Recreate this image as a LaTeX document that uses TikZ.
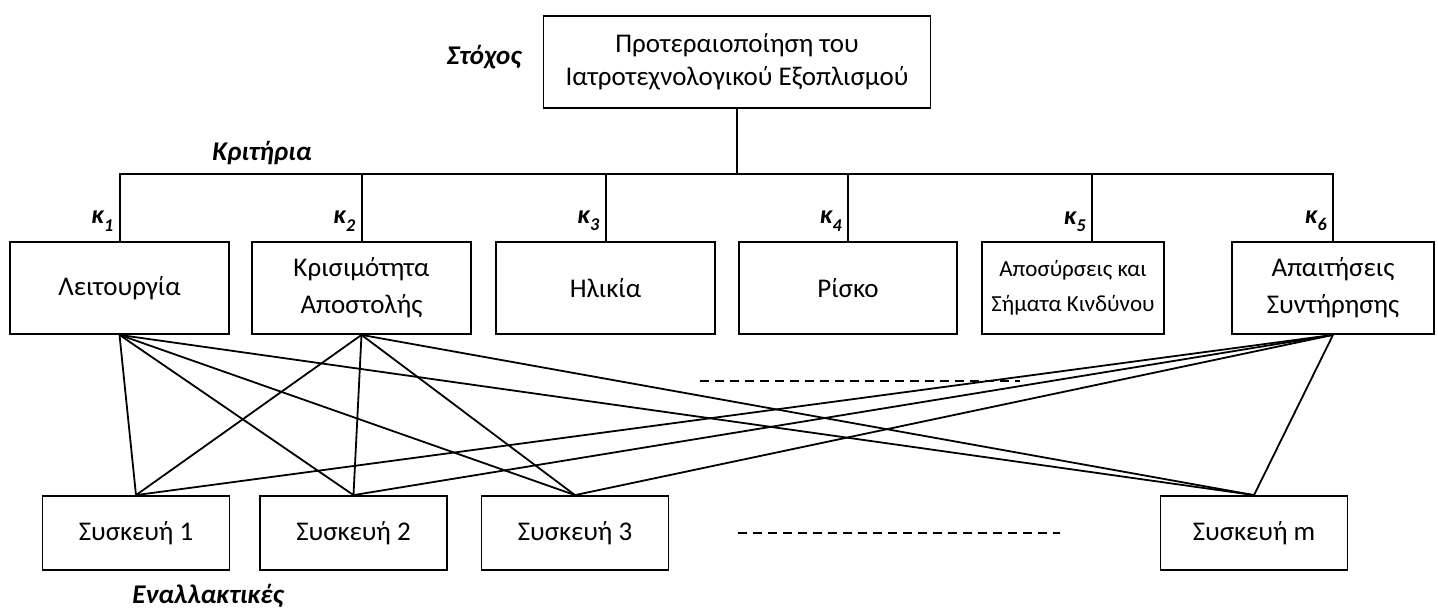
\documentclass[tikz,border=0pt]{standalone}
\usepackage{fontspec}
\setmainfont{Carlito}
\usetikzlibrary{calc}

\newcommand{\crit}[1]{\textbf{\textit{κ\raisebox{-0.28em}{\fontsize{18}{18}\selectfont #1}}}}

\tikzset{
  box/.style={draw, line width=1.8pt, minimum height=92pt, align=center, inner sep=0pt,
              font=\fontsize{27}{37}\selectfont},
  alt/.style={draw, line width=1.8pt, minimum height=74pt, minimum width=187pt, inner sep=0pt,
              font=\fontsize{27}{32}\selectfont},
  tag/.style={inner sep=0pt, font=\fontsize{27}{30}\selectfont\bfseries\itshape},
  ktag/.style={inner sep=0pt, anchor=east, font=\fontsize{26}{28}\selectfont},
  link/.style={line width=1.8pt},
  tree/.style={line width=2pt},
  gap/.style={line width=1.6pt, dash pattern=on 9pt off 6pt},
}

\begin{document}
\begin{tikzpicture}[x=1pt, y=-1pt]
  \useasboundingbox (0,0) rectangle (1438,608);

  % goal
  \node[box, minimum width=387pt, font=\fontsize{27}{33}\selectfont] (goal) at (737,62)
    {Προτεραιοποίηση του\\Ιατροτεχνολογικού Εξοπλισμού};
  \node[tag] (goaltag) at (484,57) {Στόχος};

  % criteria
  \node[box, minimum width=219pt] (B1) at (119.5,288) {Λειτουργία};
  \node[box, minimum width=219pt] (B2) at (361.5,288) {Κρισιμότητα\\Αποστολής};
  \node[box, minimum width=219pt] (B3) at (605.5,288) {Ηλικία};
  \node[box, minimum width=218pt] (B4) at (848,288) {Ρίσκο};
  \node[box, minimum width=182pt, font=\fontsize{23}{35}\selectfont] (B5) at (1073,288)
    {Αποσύρσεις και\\Σήματα Κινδύνου};
  \node[box, minimum width=202pt] (B6) at (1333,288) {Απαιτήσεις\\Συντήρησης};
  \node[tag] (crittag) at (262,153) {Κριτήρια};

  % tree of links from the goal to the criteria
  \coordinate (bus) at (0,174);
  \coordinate (k5) at (1092,242);
  \draw[tree] (goal.south) -- (goal.south |- bus);
  \draw[tree] (B1.north) -- (B1.north |- bus) -- (B6.north |- bus) -- (B6.north);
  \draw[tree] (B2.north) -- (B2.north |- bus);
  \draw[tree] (B3.north) -- (B3.north |- bus);
  \draw[tree] (B4.north) -- (B4.north |- bus);
  \draw[tree] (k5) -- (k5 |- bus);

  % criterion symbols
  \node[ktag] (l1) at ($(B1.north)+(-6,-20)$) {\crit{1}};
  \node[ktag] (l2) at ($(B2.north)+(-6,-20)$) {\crit{2}};
  \node[ktag] (l3) at ($(B3.north)+(-6,-20)$) {\crit{3}};
  \node[ktag] (l4) at ($(B4.north)+(-6,-20)$) {\crit{4}};
  \node[ktag] (l5) at ($(k5)+(-6,-20)$) {\crit{5}};
  \node[ktag] (l6) at ($(B6.north)+(-6,-20)$) {\crit{6}};

  % alternatives
  \node[alt] (S1) at (136,533) {Συσκευή 1};
  \node[alt] (S2) at (353.5,533) {Συσκευή 2};
  \node[alt] (S3) at (575,533) {Συσκευή 3};
  \node[alt] (Sm) at (1254,533) {Συσκευή m};
  \node[tag] (alttag) at (208,596) {Εναλλακτικές};

  % links from criteria to alternatives
  \foreach \c in {B1,B2,B6}
    \foreach \a in {S1,S2,S3,Sm}
      \draw[link] (\c.south) -- (\a.north);

  % ellipsis lines
  \coordinate (d1a) at (700,381);
  \coordinate (d1b) at (1020,381);
  \coordinate (d2a) at (738,533);
  \coordinate (d2b) at (1060,533);
  \draw[gap] (d1a) -- (d1b);
  \draw[gap] (d2a) -- (d2b);
\end{tikzpicture}
\end{document}
